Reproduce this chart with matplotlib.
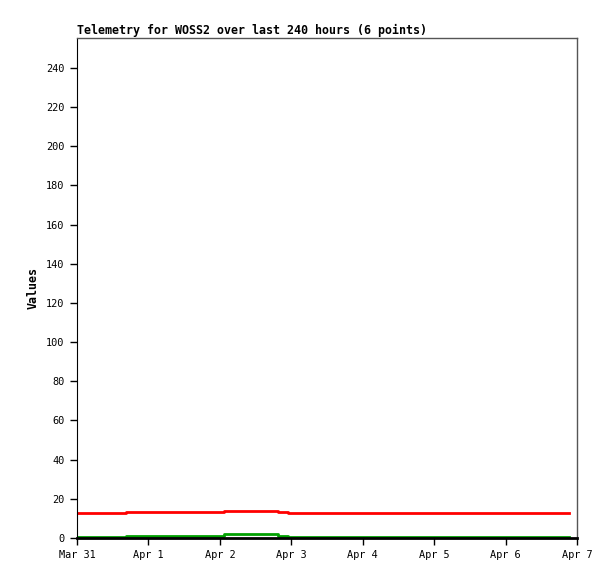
import matplotlib
matplotlib.use("Agg")
import matplotlib.pyplot as plt
import datetime as dt

# Data (times in days since Mar 31 00:00)
t_days = [0.0, 0.69, 2.06, 2.81, 2.95, 6.89]
red_vals = [13.0, 13.4, 13.9, 13.4, 13.0, 13.0]
green_vals = [0.7, 1.2, 1.9, 1.2, 0.7, 0.7]
xtick_labels = ["Mar 31", "Apr 1", "Apr 2", "Apr 3", "Apr 4", "Apr 5", "Apr 6", "Apr 7"]
yticks = [0, 20, 40, 60, 80, 100, 120, 140, 160, 180, 200, 220, 240]

start = dt.datetime(2024, 3, 31)
times = [start + dt.timedelta(days=d) for d in t_days]
tick_dates = [start + dt.timedelta(days=i) for i in range(len(xtick_labels))]

plt.rcParams['font.family'] = ['DejaVu Sans Mono']

fig = plt.figure(figsize=(6.15, 5.79), dpi=100)
ax = fig.add_axes([77/615, 41/579, 500/615, 500/579])

ax.step(times, red_vals, where='post', color='#ff0000', lw=2.0)
ax.step(times, green_vals, where='post', color='#00a000', lw=2.0)

ax.set_xlim(tick_dates[0], tick_dates[-1])
ax.set_ylim(0, 255.3)
ax.set_xticks(tick_dates)
ax.set_xticklabels(xtick_labels, fontsize=7.4)
ax.set_yticks(yticks)
ax.set_yticklabels([str(v) for v in yticks], fontsize=7.4)
ax.tick_params(direction='out', length=5, width=1, colors='black', pad=4)

for s in ['top', 'right']:
    ax.spines[s].set_color('#555555')
    ax.spines[s].set_linewidth(1)
ax.spines['left'].set_color('black')
ax.spines['bottom'].set_color('black')
ax.spines['bottom'].set_linewidth(2)

ax.set_ylabel("Values", fontsize=8.4, fontweight='bold', labelpad=5)
ax.set_title("Telemetry for WOSS2 over last 240 hours (6 points)", fontsize=8.4,
             fontweight='bold', loc='left', pad=3)

fig.savefig("out.png", dpi=100)
